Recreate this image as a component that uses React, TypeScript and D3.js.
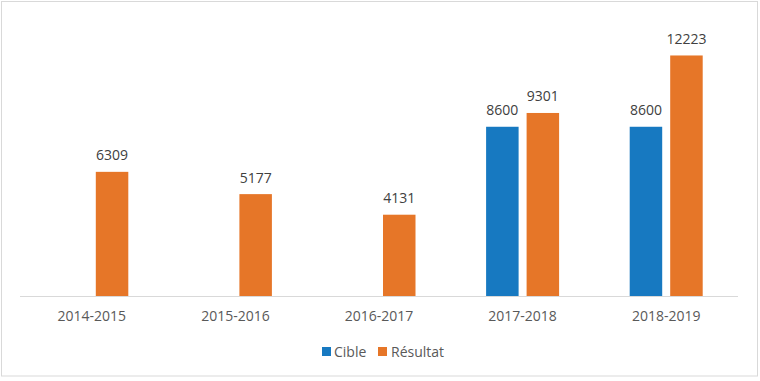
import React from "react";
import * as d3 from "d3";

const categories = ["2014-2015", "2015-2016", "2016-2017", "2017-2018", "2018-2019"];
const cible: (number | null)[] = [null, null, null, 8600, 8600];
const resultat: number[] = [6309, 5177, 4131, 9301, 12223];
const seriesNames = ["Cible", "Résultat"];
const colors = ["#1779C1", "#E67628"];

export default function App() {
  const W = 760, H = 381;
  const left = 20, right = 738, base = 296, top = 20.5;
  const x = d3.scaleBand<string>().domain(categories).range([left, right]).padding(0);
  const y = d3.scaleLinear().domain([0, 14000]).range([base, top]);
  const bw = 32.5, gap = 8;
  const font = "'Open Sans', sans-serif";
  const fs = 14;
  const bars: JSX.Element[] = [];
  categories.forEach((c, i) => {
    const cx = (x(c) as number) + x.bandwidth() / 2;
    const vals = [cible[i], resultat[i]];
    vals.forEach((v, s) => {
      if (v == null) return;
      const bx = s === 0 ? cx - gap / 2 - bw : cx + gap / 2;
      bars.push(
        <g key={c + s}>
          <rect x={bx} y={y(v)} width={bw} height={base - y(v)} fill={colors[s]} />
          <text x={bx + bw / 2} y={y(v) - 11.5} textAnchor="middle" fontSize={fs} fill="#404040" fontFamily={font}>{v}</text>
        </g>
      );
    });
  });
  return (
    <svg width={W} height={H} style={{ position: "absolute", left: 0, top: 0 }}>
      <rect x={0} y={0} width={W} height={H} fill="#fff" />
      <rect x={1.5} y={1.5} width={756} height={374.5} fill="none" stroke="#d9d9d9" strokeWidth={1} />
      <line x1={left} x2={right} y1={base + 0.5} y2={base + 0.5} stroke="#d9d9d9" strokeWidth={1} />
      {bars}
      {categories.map((c) => (
        <text key={c} x={(x(c) as number) + x.bandwidth() / 2} y={321} textAnchor="middle" fontSize={fs} fill="#595959" fontFamily={font}>{c}</text>
      ))}
      <g>
        <rect x={322} y={347} width={9} height={9} fill={colors[0]} />
        <text x={334} y={357} fontSize={fs} fill="#595959" fontFamily={font}>{seriesNames[0]}</text>
        <rect x={378} y={347} width={9} height={9} fill={colors[1]} />
        <text x={391} y={357} fontSize={fs} fill="#595959" fontFamily={font}>{seriesNames[1]}</text>
      </g>
    </svg>
  );
}
